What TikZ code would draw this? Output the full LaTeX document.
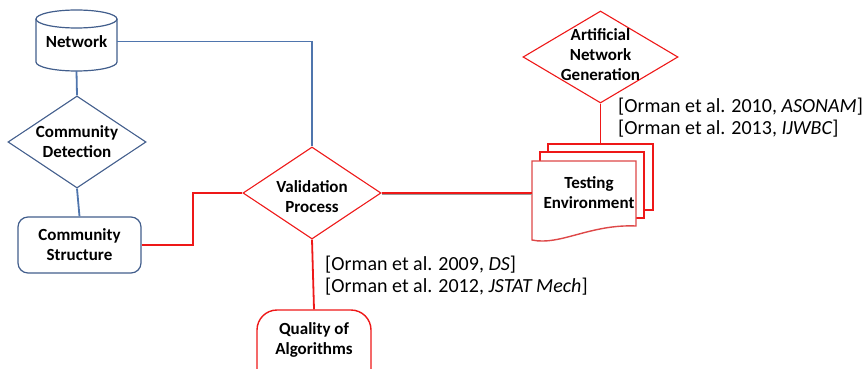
\documentclass[tikz,border=0pt]{standalone}
\usepackage{fontspec}
\setmainfont{Carlito}
\usetikzlibrary{shapes.geometric}
\definecolor{bline}{RGB}{79,117,173}
\definecolor{bshape}{RGB}{66,94,140}
\definecolor{rline}{RGB}{238,24,24}
\definecolor{rsoft}{RGB}{222,72,72}
\begin{document}
\begin{tikzpicture}[x=1pt,y=-1pt,
  bt/.style={font=\fontsize{17}{20}\selectfont\bfseries, align=center, inner sep=0pt},
  cite/.style={font=\fontsize{20}{22}\selectfont, align=left, inner sep=0pt, anchor=west},
  diabox/.style={diamond, draw, inner sep=0pt, line width=1.1pt},
  bconn/.style={bline, line width=1.8pt},
  rconn/.style={rline, line width=1.8pt},
  sheet/.style={draw=rline, fill=white, line width=1.4pt, inner sep=0pt}]
\useasboundingbox (0,0) rectangle (865,369);
\clip (0,0) rectangle (865,369);

% Network cylinder
\draw[bshape, line width=1.2pt, fill=white] (36,19) -- (36,62)
  arc[start angle=180, end angle=0, x radius=40.5, y radius=9] -- (117,19);
\draw[bshape, line width=1.2pt] (76.5,19) ellipse[x radius=40.5, y radius=9];
\node[bt, minimum width=81pt, minimum height=59pt] (net) at (76.5,41.5) {Network};

% Community detection
\node[diabox, draw=bshape, minimum width=138pt, minimum height=92pt] (cd) at (77,142) {};
\node[bt] (cdt) at (77,142) {Community\\Detection};

% Community structure
\node[bt, draw=bshape, line width=1.2pt, rounded corners=10pt, minimum width=123pt, minimum height=56pt] (cs) at (79.5,245) {Community\\Structure};

% Validation process
\node[diabox, draw=rline, minimum width=138pt, minimum height=92pt] (vp) at (312,193) {};
\node[bt] (vpt) at (312,197) {Validation\\Process};

% Quality of algorithms
\node[draw=rline, line width=1.4pt, rounded corners=20pt, minimum width=114pt, minimum height=90pt] (qa) at (314,355) {};
\node[bt] (qat) at (314,340) {Quality of\\Algorithms};

% Artificial network generation
\node[diabox, draw=rline, minimum width=155pt, minimum height=92pt] (ang) at (600.5,57) {};
\node[bt] (angt) at (600.5,55) {Artificial\\Network\\Generation};

% Testing environment (multi-document)
\node[sheet, minimum width=105pt, minimum height=66pt] (teback) at (600.5,177) {};
\node[sheet, minimum width=104pt, minimum height=66pt] (temid) at (592,185) {};
\draw[rsoft, line width=1.4pt, fill=white] (532,161) -- (636,161) -- (636,226)
  .. controls (590,224) and (560,246) .. (532,240) -- cycle;
\node[bt, minimum width=114pt, minimum height=60pt] (te) at (589,193) {Testing\\Environment};

% Connectors
\draw[bconn] (net.east) -| (vp.north);
\draw[bconn] (net.south) -- (cd.north);
\draw[bconn] (cd.south) -- (cs.north);
\draw[rconn] (cs.east) -- ++(51,0) |- (vp.west);
\draw[gray!80, line width=2.6pt] ([yshift=-0.5pt]vp.east) -- ([yshift=-0.5pt]te.west);
\draw[rline, line width=1.3pt] (vp.east) -- (te.west);
\draw[rconn] (vp.south) -- (qa.north);
\draw[rconn] (ang.south) -- (teback.north);

% Citations
\node[cite] (c1) at (325,276) {{[}Orman et al. 2009, \textit{DS}{]}\\{[}Orman et al. 2012, \textit{JSTAT Mech}{]}};
\node[cite] (c2) at (618,118) {{[}Orman et al. 2010, \textit{ASONAM}{]}\\{[}Orman et al. 2013, \textit{IJWBC}{]}};
\end{tikzpicture}
\end{document}
